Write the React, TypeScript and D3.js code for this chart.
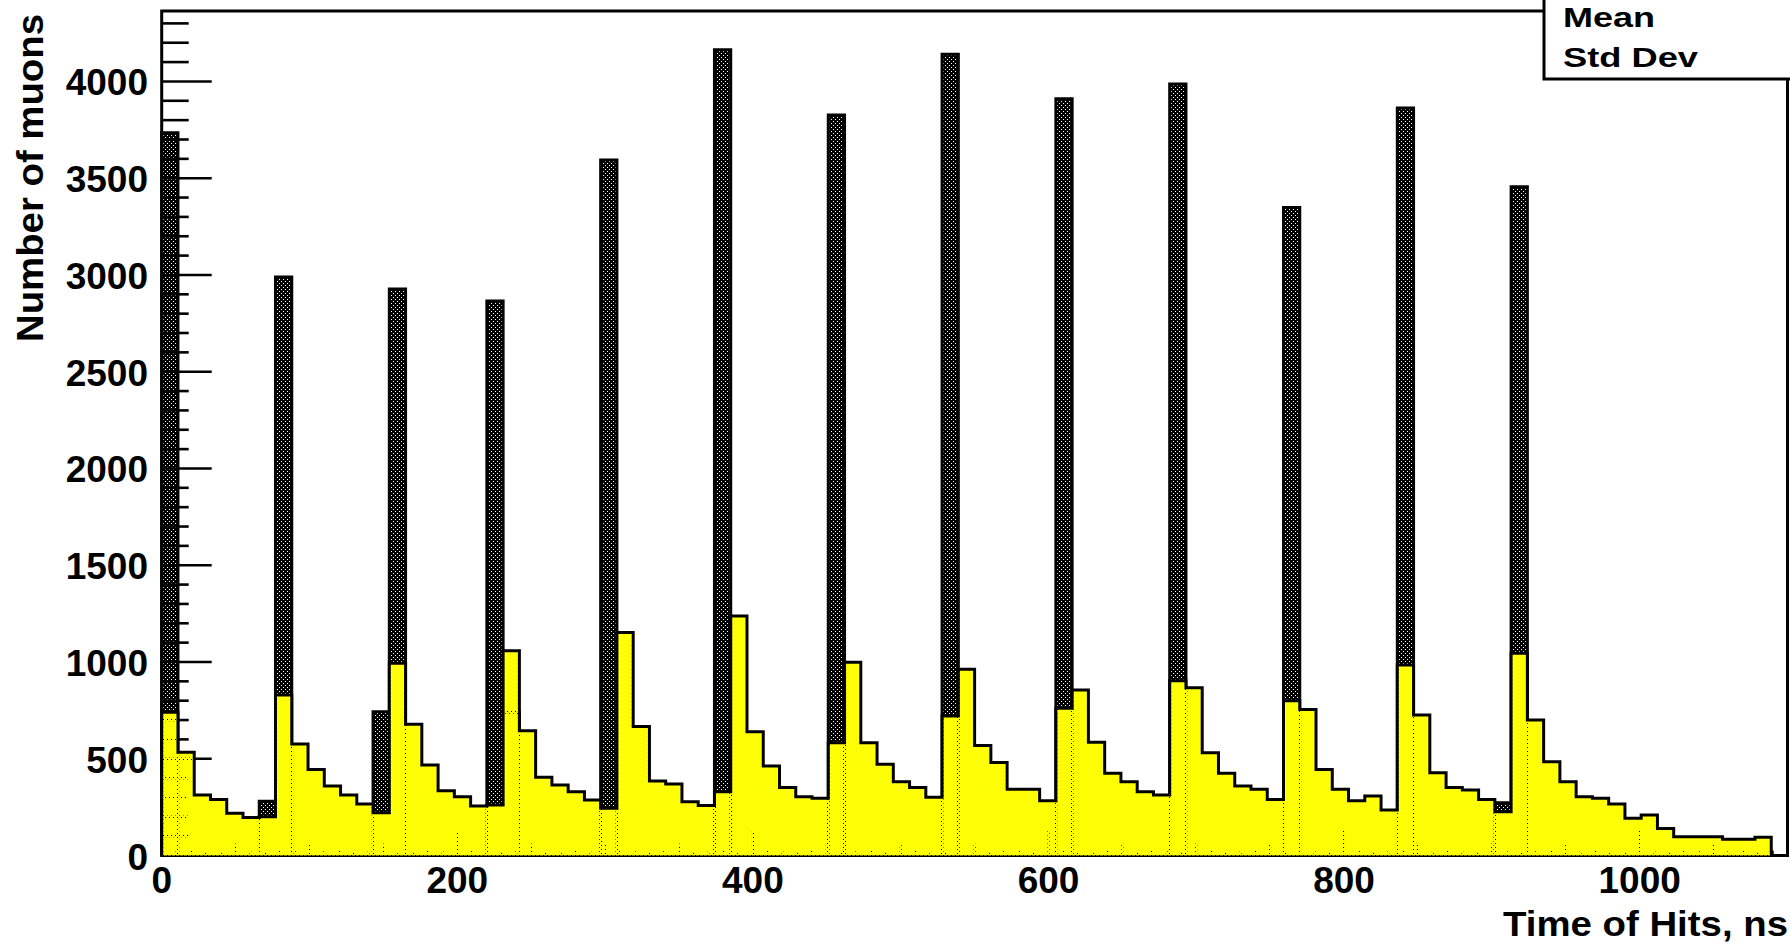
import React from "react";
import * as d3 from "d3";

// Histogram binning: 100 bins of 11 ns from 0 to 1100 ns
const binWidth = 11;
const xMin = 0;
const xMax = 1100;
const yTop = 4364;

// Yellow histogram (all hits)
const selectedCounts = [
  740, 533, 313, 290, 218, 197, 200, 829, 576, 445,
  359, 313, 266, 221, 993, 678, 468, 335, 304, 256,
  261, 1058, 645, 404, 364, 330, 287, 244, 1153, 666,
  385, 370, 278, 259, 330, 1238, 640, 463, 351, 304,
  296, 583, 998, 583, 471, 381, 352, 301, 721, 962,
  569, 480, 342, 342, 283, 761, 855, 585, 425, 381,
  330, 313, 903, 867, 531, 425, 359, 342, 290, 800,
  755, 445, 342, 283, 307, 235, 984, 726, 428, 352,
  338, 290, 226, 1045, 700, 485, 381, 304, 296, 266,
  192, 209, 140, 97, 97, 97, 84, 84, 94, 0,
];

// Dark (black dotted) histogram
const peakCounts = [
  3735, 0, 0, 0, 0, 0, 280, 2990, 0, 0,
  0, 0, 0, 743, 2927, 0, 0, 0, 0, 0,
  2866, 740, 0, 0, 0, 0, 0, 3594, 0, 0,
  0, 0, 0, 0, 4164, 0, 0, 0, 0, 0,
  0, 3827, 0, 0, 0, 0, 0, 0, 4140, 0,
  0, 0, 0, 0, 0, 3910, 0, 0, 0, 0,
  0, 0, 3987, 0, 0, 0, 0, 0, 0, 3349,
  0, 0, 0, 0, 0, 0, 3863, 0, 0, 0,
  0, 0, 273, 3456, 0, 0, 0, 0, 0, 0,
  0, 0, 0, 0, 0, 0, 0, 0, 0, 0,
];

const yMajorTicks = [0, 500, 1000, 1500, 2000, 2500, 3000, 3500, 4000];
const yTickLabels = ["0", "500", "1000", "1500", "2000", "2500", "3000", "3500", "4000"];
const xMajorTicks = [0, 200, 400, 600, 800, 1000];
const xTickLabels = ["0", "200", "400", "600", "800", "1000"];

const xTitle = "Time of Hits, ns";
const yTitle = "Number of muons";
const statsLines = ["Mean", "Std Dev"];

const FONT = "'Liberation Sans', Arial, Helvetica, sans-serif";

type Pt = [number, number];

export default function App() {
  const W = 1790;
  const H = 944;
  const nBins = selectedCounts.length;
  const x = d3.scaleLinear().domain([xMin, xMax]).range([161.7, 1787.5]);
  const y = d3.scaleLinear().domain([0, yTop]).range([855.5, 11]);
  const edges = d3.range(nBins + 1).map((i) => xMin + i * binWidth);

  const stepPoints = (vals: number[]): Pt[] => {
    const pts: Pt[] = [[edges[0], 0]];
    vals.forEach((v, i) => {
      pts.push([edges[i], v]);
      pts.push([edges[i + 1], v]);
    });
    pts.push([edges[nBins], 0]);
    return pts;
  };
  const line = d3.line<Pt>().x((d) => x(d[0])).y((d) => y(d[1]));
  const area = d3.area<Pt>().x((d) => x(d[0])).y0(y(0)).y1((d) => y(d[1]));

  const darkPts = stepPoints(peakCounts);
  const yellowPts = stepPoints(selectedCounts);

  const yMinor = d3.range(0, 4301, 100).filter((v) => v % 500 !== 0);
  const xTert = d3.range(0, 1100, 10).filter((v) => v % 50 !== 0);
  const xSec = d3.range(0, 1100, 50).filter((v) => v % 200 !== 0);

  const x0 = x(xMin);
  const x1 = x(xMax);
  const yb = y(0);
  const yt = y(yTop);

  const holes = "M0 0H4V4H0Z M1 1h1v1h-1Z M3 3h1v1h-1Z";
  const sw = 3;

  return (
    <>
      <style>{`body{margin:0;overflow:hidden}`}</style>
      <svg width={W} height={H} style={{ display: "block", background: "#fff" }} fontFamily={FONT}>
        <defs>
          <pattern id="darkPat" patternUnits="userSpaceOnUse" width={4} height={4} x={0} y={0}>
            <path d={holes} fill="#000" fillRule="evenodd" />
          </pattern>
          <pattern id="yelPat" patternUnits="userSpaceOnUse" width={4} height={4} x={0} y={0}>
            <path d={holes} fill="#ffff00" fillRule="evenodd" />
          </pattern>
        </defs>

        {/* y axis ticks */}
        {yMajorTicks.map((v) => (
          <line key={"ym" + v} x1={x0} x2={x0 + 50} y1={y(v)} y2={y(v)} stroke="#000" strokeWidth={2.6} />
        ))}
        {yMinor.map((v) => (
          <line key={"yn" + v} x1={x0} x2={x0 + 27} y1={y(v)} y2={y(v)} stroke="#000" strokeWidth={2.6} />
        ))}
        {/* x axis ticks */}
        {xMajorTicks.map((v) => (
          <line key={"xm" + v} x1={x(v)} x2={x(v)} y1={yb} y2={yb - 25} stroke="#000" strokeWidth={2.2} />
        ))}
        {xSec.map((v) => (
          <line key={"xs" + v} x1={x(v)} x2={x(v)} y1={yb} y2={yb - 12} stroke="#000" strokeWidth={2.2} />
        ))}
        {xTert.map((v) => (
          <line key={"xt" + v} x1={x(v)} x2={x(v)} y1={yb} y2={yb - 5} stroke="#000" strokeWidth={2} />
        ))}

        {/* tick labels */}
        {yMajorTicks.map((v, i) => (
          <text key={"yl" + v} x={148} y={y(v) + 14} textAnchor="end" fontSize={37} fontWeight="bold">
            {yTickLabels[i]}
          </text>
        ))}
        {xMajorTicks.map((v, i) => (
          <text key={"xl" + v} x={x(v)} y={893} textAnchor="middle" fontSize={37} fontWeight="bold">
            {xTickLabels[i]}
          </text>
        ))}

        {/* axis titles */}
        <text x={1788} y={936} textAnchor="end" fontSize={35} fontWeight="bold" textLength={285} lengthAdjust="spacingAndGlyphs">
          {xTitle}
        </text>
        <text transform="translate(43,14) rotate(-90)" textAnchor="end" fontSize={37} fontWeight="bold" textLength={328} lengthAdjust="spacingAndGlyphs">
          {yTitle}
        </text>

        {/* frame */}
        <rect x={x0} y={yt} width={x1 - x0} height={yb - yt} fill="none" stroke="#000" strokeWidth={sw} />

        {/* dark histogram */}
        <path d={area(darkPts) || ""} fill="url(#darkPat)" />
        <path d={line(darkPts) || ""} fill="none" stroke="#000" strokeWidth={sw} strokeLinejoin="miter" />

        {/* yellow histogram */}
        <path d={area(yellowPts) || ""} fill="url(#yelPat)" />
        <path d={line(yellowPts) || ""} fill="none" stroke="#000" strokeWidth={sw} strokeLinejoin="miter" />

        {/* stats box */}
        <rect x={1544} y={-4} width={260} height={83} fill="#fff" stroke="#000" strokeWidth={sw} />
        <text x={1563} y={27} fontSize={27} fontWeight="bold" textLength={92} lengthAdjust="spacingAndGlyphs">
          {statsLines[0]}
        </text>
        <text x={1563} y={67} fontSize={27} fontWeight="bold" textLength={135} lengthAdjust="spacingAndGlyphs">
          {statsLines[1]}
        </text>
      </svg>
    </>
  );
}
